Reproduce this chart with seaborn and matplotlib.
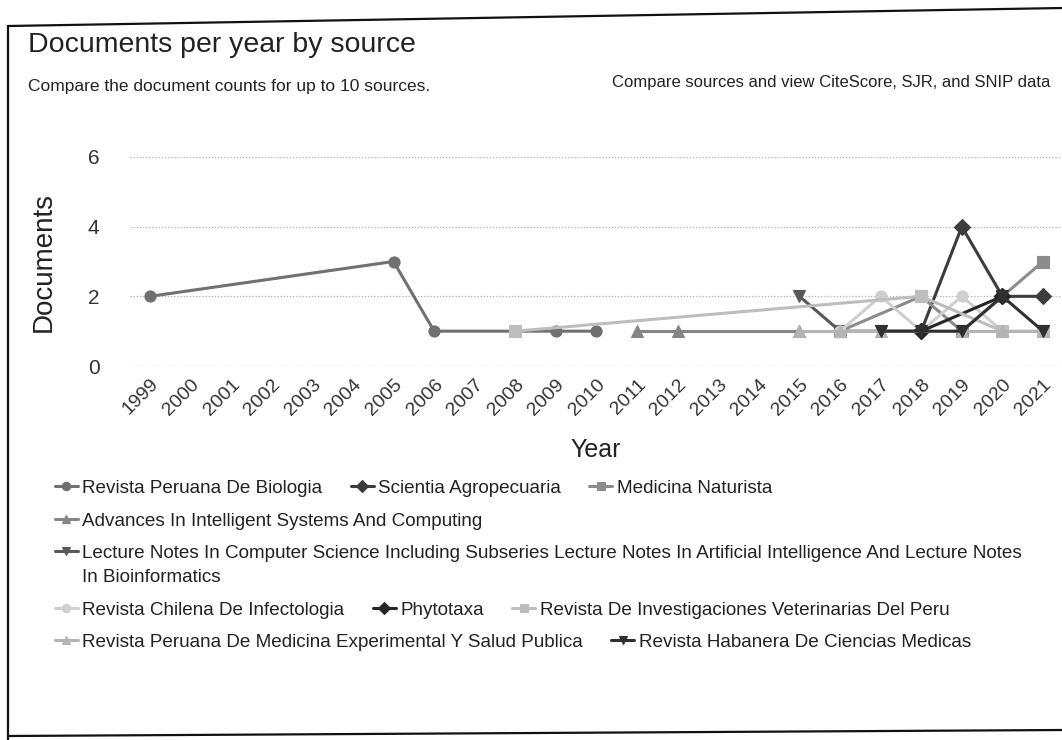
import numpy as np
import pandas as pd
import matplotlib
matplotlib.use("Agg")
import matplotlib.pyplot as plt
from matplotlib.lines import Line2D
import seaborn as sns

# ---------------- data ----------------
sources = [
    "Revista Peruana De Biologia",
    "Scientia Agropecuaria",
    "Medicina Naturista",
    "Advances In Intelligent Systems And Computing",
    "Lecture Notes In Computer Science Including Subseries Lecture Notes In Artificial Intelligence And Lecture Notes",
    "Revista Chilena De Infectologia",
    "Phytotaxa",
    "Revista De Investigaciones Veterinarias Del Peru",
    "Revista Peruana De Medicina Experimental Y Salud Publica",
    "Revista Habanera De Ciencias Medicas",
]
years_biologia = [1999, 2005, 2006, 2009, 2010]
docs_biologia = [2, 3, 1, 1, 1]
years_scientia = [2018, 2019, 2020, 2021]
docs_scientia = [1, 4, 2, 2]
years_medicina = [2016, 2018, 2019, 2020, 2021]
docs_medicina = [1, 2, 1, 2, 3]
years_advances = [2011, 2012, 2015, 2016]
docs_advances = [1, 1, 1, 1]
years_lecture = [2015, 2016, 2017, 2018]
docs_lecture = [2, 1, 1, 1]
years_chilena = [2016, 2017, 2018, 2019, 2020]
docs_chilena = [1, 2, 1, 2, 1]
years_phytotaxa = [2018, 2020]
docs_phytotaxa = [1, 2]
years_veterinarias = [2008, 2018, 2020, 2021]
docs_veterinarias = [1, 2, 1, 1]
years_medexp = [2015, 2016, 2017, 2019, 2020, 2021]
docs_medexp = [1, 1, 1, 1, 1, 1]
years_habanera = [2017, 2018, 2019, 2020, 2021]
docs_habanera = [1, 1, 1, 2, 1]

year_ticks = list(range(1999, 2022))
y_ticks = [0, 2, 4, 6]

series_years = [years_biologia, years_scientia, years_medicina, years_advances, years_lecture,
                years_chilena, years_phytotaxa, years_veterinarias, years_medexp, years_habanera]
series_docs = [docs_biologia, docs_scientia, docs_medicina, docs_advances, docs_lecture,
               docs_chilena, docs_phytotaxa, docs_veterinarias, docs_medexp, docs_habanera]

rows = []
for s, ys, ds in zip(sources, series_years, series_docs):
    for y, d in zip(ys, ds):
        rows.append({"Source": s, "Year": y, "Documents": d})
df = pd.DataFrame(rows)

colors = ["#707070", "#3c3c3c", "#8c8c8c", "#858585", "#585858",
          "#cfcfcf", "#262626", "#bdbdbd", "#b4b4b4", "#303030"]
marks = ["o", "D", "s", "^", "v", "o", "D", "s", "^", "v"]
palette = dict(zip(sources, colors))
markers = dict(zip(sources, marks))

# ---------------- style ----------------
sns.set_theme(style="white")
plt.rcParams["font.family"] = ["Liberation Sans", "DejaVu Sans"]

W, H = 1062, 740
fig = plt.figure(figsize=(W / 100, H / 100), dpi=100)

def fx(px):
    return px / W

def fy(py):
    return 1 - py / H

ax = fig.add_axes([fx(130), fy(366), fx(1062) - fx(130), fy(157) - fy(366)])

sns.lineplot(data=df, x="Year", y="Documents", hue="Source", style="Source",
             hue_order=sources, style_order=sources, palette=palette,
             markers=markers, dashes=False, estimator=None, sort=True,
             linewidth=2.2, markersize=8, markeredgewidth=0.8,
             ax=ax, legend=True)
for ln in ax.get_lines():
    ln.set_clip_on(False)
    ln.set_markeredgecolor(ln.get_color())

handles, labels = ax.get_legend_handles_labels()
ax.get_legend().remove()

ax.set_xlim(1999 - 20 / 40.6, 2021 + 19 / 40.6)
ax.set_ylim(0, 6)
ax.set_xticks(year_ticks)
ax.set_xticklabels([str(y) for y in year_ticks], rotation=45, ha="right",
                   rotation_mode="anchor", fontsize=14, color="#333333")
ax.set_yticks(y_ticks)
ax.set_yticklabels([str(v) for v in y_ticks], fontsize=15, color="#333333")
ax.tick_params(axis="x", length=0, pad=7)
ax.tick_params(axis="y", length=0, pad=22)
for sp in ax.spines.values():
    sp.set_visible(False)
ax.grid(axis="y", color="#b0b0b0", linestyle=(0, (1, 1.5)), linewidth=0.9)
ax.grid(axis="x", visible=False)
ax.set_axisbelow(True)
ax.set_xlabel("Year", fontsize=18, color="#222222", labelpad=14)
ax.set_ylabel("Documents", fontsize=20, color="#222222", labelpad=22)

# ---------------- titles ----------------
fig.text(fx(28), fy(45), "Documents per year by source", fontsize=20.5, color="#222222",
         ha="left", va="center")
fig.text(fx(28), fy(87), "Compare the document counts for up to 10 sources.", fontsize=12.5,
         color="#222222", ha="left", va="center")
fig.text(fx(1050), fy(83), "Compare sources and view CiteScore, SJR, and SNIP data",
         fontsize=12, color="#222222", ha="right", va="center")

# ---------------- legend ----------------
h = dict(zip(labels, handles))
legend_rows = [
    ([0, 1, 2], 488),
    ([3], 521),
    ([4], 553),
    ([5, 6, 7], 610),
    ([8, 9], 642),
]
for idx, ypx in legend_rows:
    fig.legend([h[sources[i]] for i in idx], [sources[i] for i in idx],
               loc="center left", bbox_to_anchor=(fx(55), fy(ypx)),
               ncol=len(idx), frameon=False, fontsize=13.6, handlelength=1.2,
               handletextpad=0.25, columnspacing=1.5, borderpad=0,
               borderaxespad=0, markerscale=0.75, labelcolor="#222222")
fig.text(fx(82), fy(577), "In Bioinformatics", fontsize=13.6, color="#222222",
         ha="left", va="center")

# ---------------- scan frame ----------------
fig.add_artist(Line2D([fx(8), fx(8)], [fy(26), fy(740)], color="#111111", lw=1.6))
fig.add_artist(Line2D([fx(8), fx(1062)], [fy(26), fy(8)], color="#111111", lw=1.6))
fig.add_artist(Line2D([fx(8), fx(1062)], [fy(736), fy(730)], color="#111111", lw=1.6))

fig.savefig("out.png", dpi=100, facecolor="white")
